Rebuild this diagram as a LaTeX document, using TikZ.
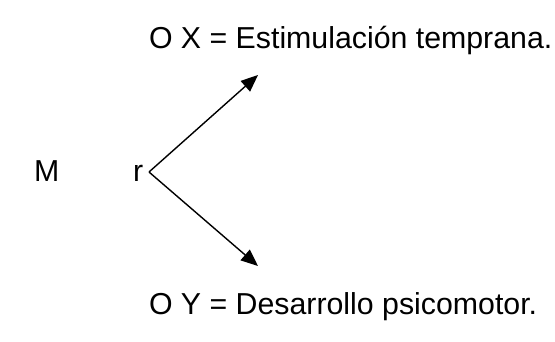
\documentclass[tikz,border=0pt]{standalone}
\usepackage{fontspec}
\setmainfont{Liberation Sans}
\usetikzlibrary{arrows.meta}
\begin{document}
\begin{tikzpicture}[x=1bp,y=-1bp,
  lbl/.style={anchor=base west,inner sep=0pt,outer sep=0pt,font=\fontsize{30.3bp}{36bp}\selectfont},
  arr/.style={line width=1.4bp,-{Triangle[length=17bp,width=14bp]}}]
\useasboundingbox (0,0) rectangle (555,341);
\node[lbl] (ox) at (149,48) {O X = Estimulación temprana.};
\node[lbl] (oy) at (149,314) {O Y = Desarrollo psicomotor.};
\node[lbl] (m) at (34,181) {M};
\node[lbl] (r) at (133,181) {r};
\coordinate (v) at (149,172);
\coordinate (tx) at (258,75);
\coordinate (ty) at (258,266);
\draw[arr] (v) -- (tx);
\draw[arr] (v) -- (ty);
\end{tikzpicture}
\end{document}
